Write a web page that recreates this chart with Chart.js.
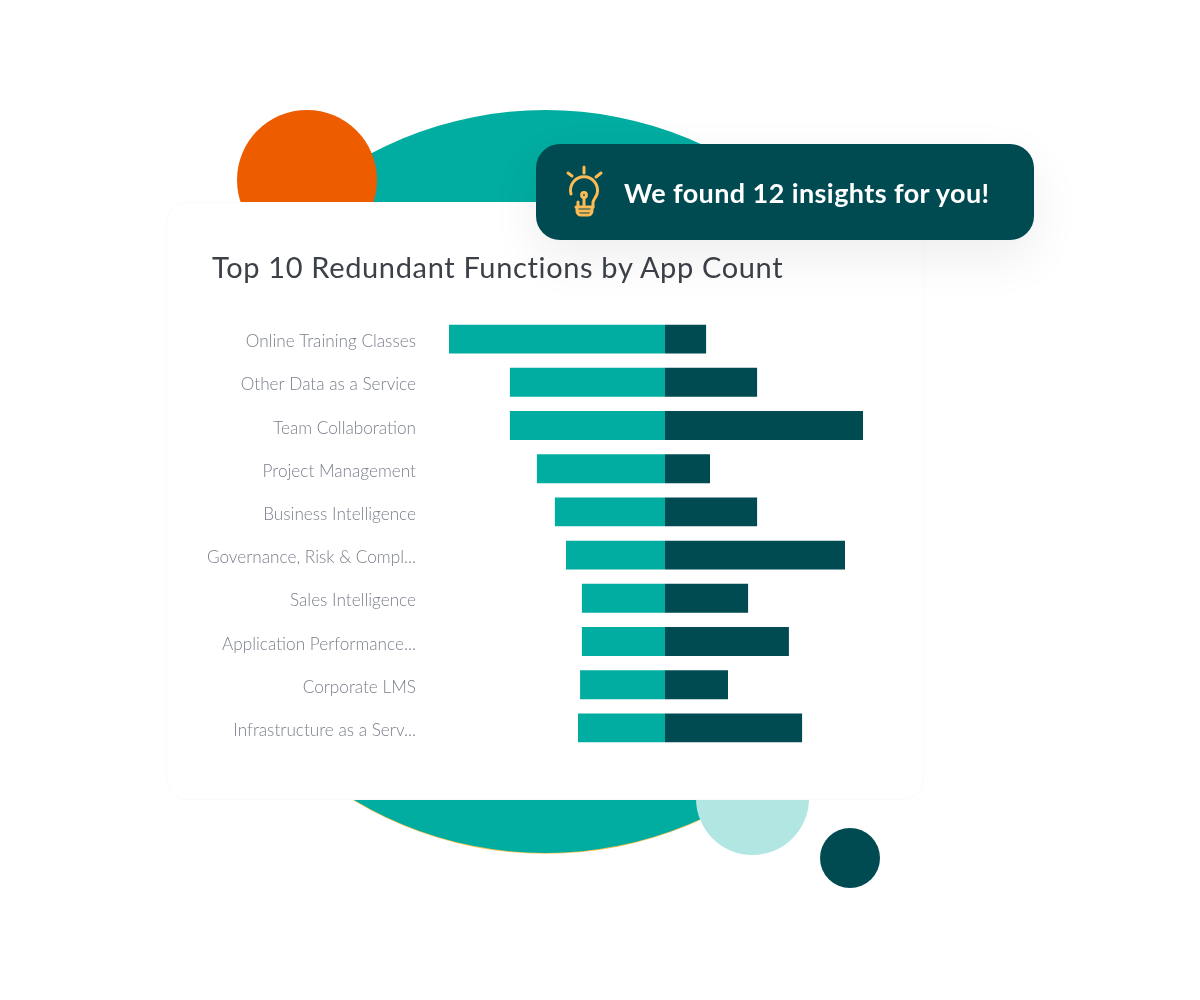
<!DOCTYPE html>
<html>
<head>
<meta charset="utf-8">
<title>Top 10 Redundant Functions by App Count</title>
<script src="https://cdn.jsdelivr.net/npm/chart.js@4"></script>
<style>
html,body{margin:0;padding:0;background:#fff;}
#page{position:relative;width:1200px;height:1000px;overflow:hidden;font-family:Lato,sans-serif;}
.blob{position:absolute;border-radius:50%;}
#big{left:173.5px;top:110px;width:743px;height:743px;background:#00ada0;box-shadow:0 .8px 0 #f5c04e;}
#orange{left:237px;top:110px;width:140px;height:140px;background:#ee5c00;}
#pale{left:696px;top:742px;width:113px;height:113px;background:#b2e6e2;}
#dark{left:820px;top:828px;width:60px;height:60px;background:#004a52;}
#card{position:absolute;left:166px;top:202px;width:756px;height:596px;background:#fff;border:1px solid #fafbfb;border-radius:22px;}
#myChart{position:absolute;left:0;top:0;}
#title{position:absolute;left:212px;top:249px;font-size:29px;line-height:36px;color:#3c4048;letter-spacing:.65px;white-space:nowrap;}
#badge{position:absolute;left:536px;top:144px;width:498px;height:96px;background:#004a52;border-radius:24px;box-shadow:0 18px 50px rgba(0,0,0,.07);}
#badge svg{position:absolute;left:28px;top:20px;}
#badge span{position:absolute;left:88px;top:32px;font-size:27px;line-height:34px;font-weight:700;color:#fff;letter-spacing:.41px;white-space:nowrap;}
</style>
</head>
<body>
<div id="page">
    <div class="blob" id="big"></div>
    <div class="blob" id="orange"></div>
    <div class="blob" id="pale"></div>
    <div class="blob" id="dark"></div>
    <div id="card"></div>
    <canvas id="myChart" width="1200" height="1000"></canvas>
    <div id="title">Top 10 Redundant Functions by App Count</div>
    <div id="badge">
        <svg width="40" height="56" viewBox="0 0 40 56" fill="none" stroke="#fdbb55" stroke-width="3" stroke-linecap="round" stroke-linejoin="round">
            <path d="M20 3v6M4 9l4 3M37 9l-5 4"/>
            <path d="M7 30A13.5 13.5 0 1 1 33 30C32 33 30 35 29 38v5"/>
            <circle cx="20" cy="31" r="2.4"/>
            <path d="M20 34v9M14 38v5M12 43h17M13 43v4a4 4 0 0 0 4 4h7a4 4 0 0 0 4-4v-4M13 47h15"/>
        </svg>
        <span>We found 12 insights for you!</span>
    </div>
</div>
<script>
var categories=["Online Training Classes","Other Data as a Service","Team Collaboration","Project Management","Business Intelligence","Governance, Risk & Compl...","Sales Intelligence","Application Performance...","Corporate LMS","Infrastructure as a Serv..."];
var leftValues=[-72,-51.7,-51.7,-42.7,-36.7,-33,-27.7,-27.7,-28.3,-29];
var rightValues=[13.7,30.7,66,15,30.7,60,27.7,41.3,21,45.7];

Chart.defaults.animation=false;

var ctx=document.getElementById("myChart").getContext("2d");
var myChart=new Chart(ctx,{
    type:'bar',
    data:{
        labels:categories,
        datasets:[
            {data:leftValues,backgroundColor:'#00ada0',label:"Left"},
            {data:rightValues,backgroundColor:'#004a52',label:"Right"}
        ]
    },
    options:{
        indexAxis:'y',
        responsive:false,
        barPercentage:0.67,
        categoryPercentage:1,
        layout:{padding:{top:317.5,bottom:250.5,right:310,left:0}},
        plugins:{legend:{display:false},tooltip:{enabled:false}},
        scales:{
            x:{stacked:true,display:false,min:-75,max:75},
            y:{
                stacked:true,
                afterFit:function(scale){scale.width=440;},
                border:{display:false},
                grid:{display:false,drawTicks:false},
                ticks:{
                    autoSkip:false,
                    padding:24,
                    labelOffset:2.6,
                    color:'#7b7f8c',
                    font:{family:'Lato',size:17.2,weight:'300'}
                }
            }
        }
    }
});
</script>
</body>
</html>
